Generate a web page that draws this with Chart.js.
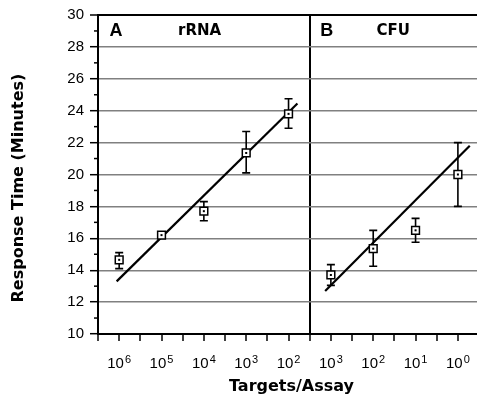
<!doctype html>
<html>
<head>
<meta charset="utf-8">
<title>Response Time vs Targets/Assay</title>
<script src="https://cdn.jsdelivr.net/npm/chart.js@4.4.1/dist/chart.umd.min.js"></script>
<style>
  html, body { margin: 0; padding: 0; background: #fff; overflow: hidden; }
  #clip { width: 477px; height: 402px; overflow: hidden; }
  #wrap { width: 492px; height: 402px; }
</style>
</head>
<body>
<div id="clip"><div id="wrap"><canvas id="myChart"></canvas></div></div>
<script>
  // panel A: rRNA, targets per assay = 10^expA
  const expA  = ['6', '5', '4', '3', '2'];
  const meanA = [14.65, 16.2, 17.7, 21.35, 23.8];
  const lowA  = [14.1, 16.05, 17.1, 20.1, 22.9];
  const highA = [15.1, 16.35, 18.3, 22.7, 24.75];

  // panel B: CFU
  const expB  = ['3', '2', '1', '0'];
  const meanB = [13.7, 15.35, 16.5, 20.0];
  const lowB  = [13.05, 14.25, 15.75, 18.0];
  const highB = [14.35, 16.5, 17.25, 22.0];

  // fitted lines (start/end, in axis units)
  const fitAx = [0.88, 9.42], fitAy = [13.3, 24.45];
  const fitBx = [10.73, 17.56], fitBy = [12.7, 21.8];

  const yTicks = [10, 12, 14, 16, 18, 20, 22, 24, 26, 28, 30];
  const yTitle = 'Response Time (Minutes)';

  // every label sits on an odd half-decade slot, panel divider at 10
  const posA = expA.map((_, i) => 1 + 2 * i);
  const posB = expB.map((_, i) => 11 + 2 * i);
  const divider = 10;

  const pts = (xs, ys) => xs.map((x, i) => ({x: x, y: ys[i]}));

  const extras = {
    id: 'extras',
    beforeDatasetsDraw(chart) {
      const c = chart.ctx, xs = chart.scales.x, ys = chart.scales.y;
      c.save();
      c.strokeStyle = '#000';
      c.lineWidth = 1.6;
      const bars = (xv, lo, hi) => {
        xv.forEach((x, i) => {
          const px = xs.getPixelForValue(x);
          const p1 = ys.getPixelForValue(lo[i]), p2 = ys.getPixelForValue(hi[i]);
          c.beginPath();
          c.moveTo(px, p1); c.lineTo(px, p2);
          c.moveTo(px - 4, p1); c.lineTo(px + 4, p1);
          c.moveTo(px - 4, p2); c.lineTo(px + 4, p2);
          c.stroke();
        });
      };
      bars(posA, lowA, highA);
      bars(posB, lowB, highB);
      c.restore();
    },
    afterDatasetsDraw(chart) {
      const c = chart.ctx, xs = chart.scales.x, ys = chart.scales.y;
      c.save();
      c.fillStyle = '#000';
      const dots = (xv, yv) => xv.forEach((x, i) => {
        c.fillRect(xs.getPixelForValue(x) - 1, ys.getPixelForValue(yv[i]) - 1, 2, 2);
      });
      dots(posA, meanA);
      dots(posB, meanB);
      c.restore();
    },
    afterDraw(chart) {
      const c = chart.ctx, xs = chart.scales.x, ys = chart.scales.y;
      const area = chart.chartArea;
      c.save();
      // minor y ticks
      c.strokeStyle = '#000';
      c.lineWidth = 1.5;
      for (let v = 11; v < 30; v += 2) {
        const py = ys.getPixelForValue(v);
        c.beginPath();
        c.moveTo(area.left - 4, py); c.lineTo(area.left, py);
        c.stroke();
      }
      // top border
      c.lineWidth = 2;
      c.beginPath();
      c.moveTo(area.left, area.top); c.lineTo(area.right, area.top);
      c.stroke();

      // x tick labels as powers of ten
      c.fillStyle = '#000';
      c.textAlign = 'left';
      c.textBaseline = 'alphabetic';
      const baseFont = '15px "Liberation Sans", Arial, sans-serif';
      const supFont = '11px "Liberation Sans", Arial, sans-serif';
      const pow = (xv, ex) => xv.forEach((x, i) => {
        c.font = baseFont;
        const w1 = c.measureText('10').width;
        c.font = supFont;
        const w2 = c.measureText(ex[i]).width;
        const x0 = xs.getPixelForValue(x) - (w1 + w2 + 1) / 2;
        c.font = baseFont;
        c.fillText('10', x0, area.bottom + 34);
        c.font = supFont;
        c.fillText(ex[i], x0 + w1 + 1, area.bottom + 29);
      });
      pow(posA, expA);
      pow(posB, expB);

      // y axis title (sits a little below the plot centre in the original)
      c.save();
      c.translate(19, ys.getPixelForValue(19.15));
      c.rotate(-Math.PI / 2);
      c.textAlign = 'center';
      c.textBaseline = 'middle';
      c.font = 'bold 16px "DejaVu Sans", sans-serif';
      c.fillText(yTitle, 0, 0);
      c.restore();

      // panel titles
      c.textAlign = 'center';
      c.textBaseline = 'middle';
      const yy = ys.getPixelForValue(29);
      c.font = 'bold 18px "Liberation Sans", Arial, sans-serif';
      c.fillText('A', xs.getPixelForValue(0.85), yy);
      c.fillText('B', xs.getPixelForValue(10.8), yy);
      c.font = 'bold 15px "DejaVu Sans", sans-serif';
      c.fillText('rRNA', xs.getPixelForValue(4.8), yy);
      c.fillText('CFU', xs.getPixelForValue(13.95), yy);
      c.restore();
    }
  };

  const ctx = document.getElementById('myChart').getContext('2d');
  const myChart = new Chart(ctx, {
    type: 'scatter',
    data: {
      datasets: [
        {
          label: 'rRNA',
          data: pts(posA, meanA),
          pointStyle: 'rect',
          pointRadius: 5.5,
          borderWidth: 1.5,
          borderColor: '#000',
          backgroundColor: '#fff',
        },
        {
          label: 'CFU',
          data: pts(posB, meanB),
          pointStyle: 'rect',
          pointRadius: 5.5,
          borderWidth: 1.5,
          borderColor: '#000',
          backgroundColor: '#fff',
        },
        {
          label: 'fit A',
          data: pts(fitAx, fitAy),
          showLine: true,
          pointRadius: 0,
          borderWidth: 2.2,
          borderColor: '#000',
        },
        {
          label: 'fit B',
          data: pts(fitBx, fitBy),
          showLine: true,
          pointRadius: 0,
          borderWidth: 2.2,
          borderColor: '#000',
        },
      ]
    },
    options: {
      responsive: true,
      maintainAspectRatio: false,
      animation: false,
      layout: { padding: { top: 13, right: 0, bottom: 0, left: 0 } },
      scales: {
        x: {
          type: 'linear',
          min: 0,
          max: 18.28,
          afterFit: (s) => { s.height = 68; },
          afterBuildTicks: (s) => {
            s.ticks = [];
            for (let v = 0; v <= 18; v++) s.ticks.push({value: v});
          },
          ticks: { display: false },
          grid: {
            drawOnChartArea: true,
            color: (c) => (c.tick && c.tick.value === divider) ? '#000' : 'rgba(0,0,0,0)',
            lineWidth: 2,
            tickColor: '#000',
            tickLength: 7,
            tickWidth: 1.5,
          },
          border: { color: '#000', width: 2 },
          title: {
            display: true,
            text: 'Targets/Assay',
            color: '#000',
            font: { family: '"DejaVu Sans", sans-serif', size: 16, weight: 'bold' },
            padding: { top: 0, bottom: 6 },
          },
        },
        y: {
          min: 10,
          max: 30,
          afterFit: (s) => { s.width = 98; },
          afterBuildTicks: (s) => { s.ticks = yTicks.map(v => ({value: v})); },
          ticks: {
            padding: 6,
            color: '#000',
            font: { family: '"Liberation Sans", Arial, sans-serif', size: 15 },
          },
          grid: {
            color: (c) => (c.tick && c.tick.value === 30) ? '#000' : '#808080',
            lineWidth: (c) => (c.tick && c.tick.value === 30) ? 2 : 1.4,
            tickColor: '#000',
            tickLength: 8,
            tickWidth: 1.5,
          },
          border: { color: '#000', width: 2 },
          title: { display: false, text: yTitle },
        }
      },
      plugins: {
        legend: { display: false },
        tooltip: { enabled: false },
      }
    },
    plugins: [extras]
  });
</script>
</body>
</html>
